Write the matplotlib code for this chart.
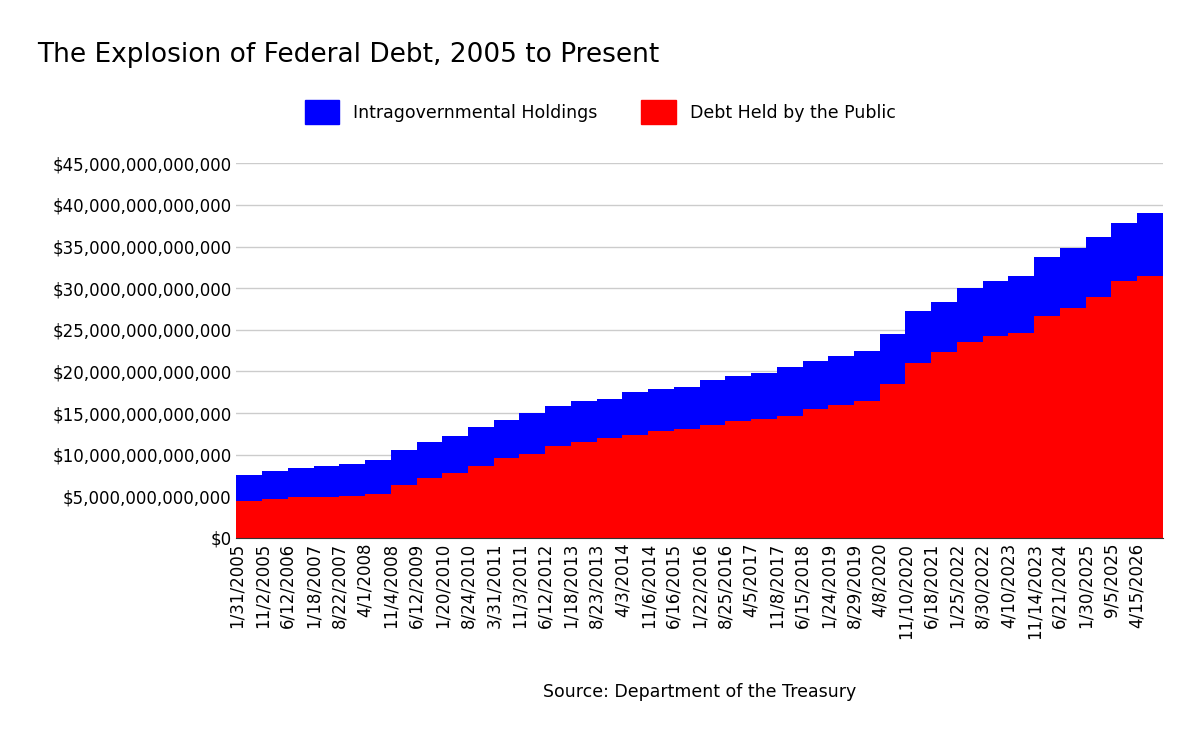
import matplotlib
matplotlib.use("Agg")
import matplotlib.pyplot as plt
from matplotlib.ticker import FuncFormatter
from matplotlib.patches import Patch

dates = ["1/31/2005","11/2/2005","6/12/2006","1/18/2007","8/22/2007","4/1/2008","11/4/2008",
         "6/12/2009","1/20/2010","8/24/2010","3/31/2011","11/3/2011","6/12/2012","1/18/2013",
         "8/23/2013","4/3/2014","11/6/2014","6/16/2015","1/22/2016","8/25/2016","4/5/2017",
         "11/8/2017","6/15/2018","1/24/2019","8/29/2019","4/8/2020","11/10/2020","6/18/2021",
         "1/25/2022","8/30/2022","4/10/2023","11/14/2023","6/21/2024","1/30/2025","9/5/2025",
         "4/15/2026","7/1/2026"]
total_tn = [7.6,8.0,8.4,8.7,8.9,9.4,10.6,11.5,12.3,13.3,14.2,15.0,15.8,16.4,16.7,17.5,17.9,18.1,
            19.0,19.4,19.8,20.5,21.2,21.9,22.5,24.5,27.2,28.3,30.0,30.8,31.5,33.7,34.8,36.2,37.8,39.0,40.1]
public_tn = [4.4,4.7,4.9,4.9,5.0,5.3,6.4,7.2,7.8,8.7,9.6,10.1,11.0,11.5,12.0,12.4,12.9,13.1,
             13.6,14.0,14.3,14.7,15.5,16.0,16.5,18.5,21.0,22.3,23.5,24.3,24.6,26.7,27.6,28.9,30.8,31.4,32.0]
tick_labels = dates[:-1]

total = [v*1e12 for v in total_tn]
public = [v*1e12 for v in public_tn]
x = list(range(len(dates)))
end_x = x[-1]

fig = plt.figure(figsize=(12, 7.42), dpi=100)
ax = fig.add_axes([0.197, 0.275, 0.772, 0.505])
ax.fill_between(x, 0, total, color="#0000ff", step="post", lw=0)
ax.fill_between(x, 0, public, color="#ff0000", step="post", lw=0)
ax.set_xlim(0, end_x)
ax.set_ylim(0, 45e12)
ax.set_yticks([i*5e12 for i in range(10)])
ax.yaxis.set_major_formatter(FuncFormatter(lambda v, p: "$" + format(int(round(v)), ",")))
ax.set_xticks(x[:-1])
ax.set_xticklabels(tick_labels, rotation=90, fontsize=12)
ax.tick_params(axis="y", labelsize=12, length=0)
ax.tick_params(axis="x", length=0)
ax.grid(axis="y", color="#cccccc", lw=1)
ax.set_axisbelow(True)
for s in ["top", "right", "left"]:
    ax.spines[s].set_visible(False)
ax.spines["bottom"].set_color("#333333")

fig.text(0.031, 0.926, "The Explosion of Federal Debt, 2005 to Present", fontsize=19, va="center")
fig.legend(handles=[Patch(color="#0000ff", label="Intragovernmental Holdings"),
                    Patch(color="#ff0000", label="Debt Held by the Public")],
           loc="center", bbox_to_anchor=(0.5, 0.849), ncol=2, frameon=False, fontsize=12.5,
           handlelength=2, handleheight=1.8, columnspacing=2.5)
fig.text(0.583, 0.067, "Source: Department of the Treasury", fontsize=12.5, ha="center", va="center")
fig.savefig("out.png", dpi=100)
